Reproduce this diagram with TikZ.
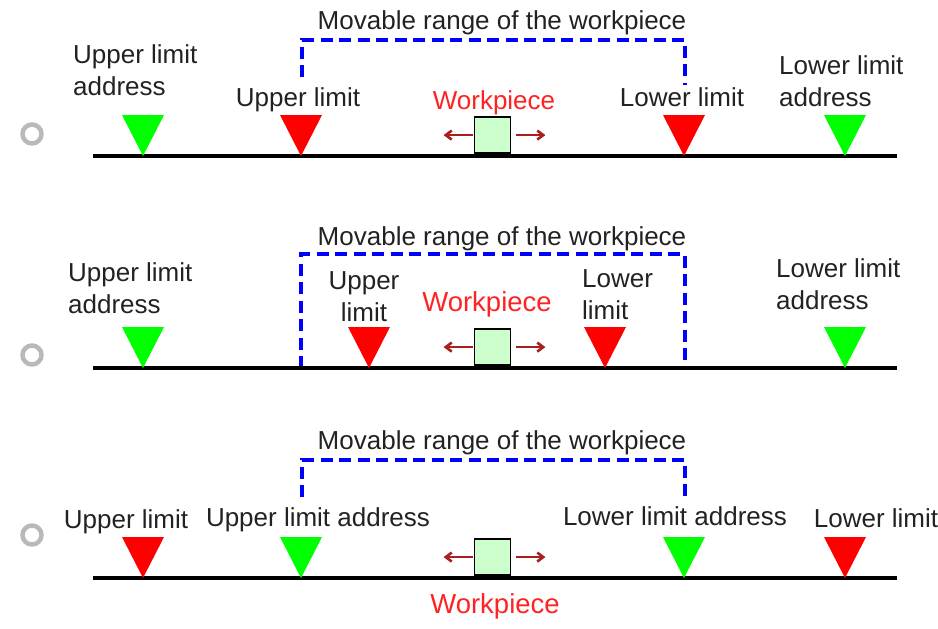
\documentclass[tikz,border=0pt]{standalone}
\usepackage{fontspec}
\setmainfont{Liberation Sans}
\usetikzlibrary{arrows.meta,positioning,calc}
\definecolor{limitRed}{RGB}{255,0,0}
\definecolor{addrGreen}{RGB}{0,255,0}
\definecolor{rangeBlue}{RGB}{0,0,255}
\definecolor{pieceRed}{RGB}{255,34,34}
\definecolor{pushRed}{RGB}{170,30,30}
\definecolor{pieceFill}{RGB}{204,255,204}
\definecolor{inkBlack}{RGB}{34,34,34}
\tikzset{
  label text/.style={text=inkBlack,font=\fontsize{26}{32}\selectfont,inner sep=0pt},
  piece text/.style={text=pieceRed,font=\fontsize{27.5}{32}\selectfont,inner sep=0pt},
  piece box/.style={draw=black,fill=pieceFill,line width=1.8pt,minimum size=36pt,inner sep=0pt},
  push arrow/.style={-{Straight Barb[length=6pt,width=9pt]},line width=2.6pt,draw=pushRed},
  range line/.style={draw=rangeBlue,line width=3.4pt,dash pattern=on 12pt off 6.5pt},
  rail/.style={line width=4pt,draw=black},
  radio/.style={circle,draw=gray!55,line width=4.5pt,fill=white,minimum size=19pt,inner sep=0pt},
  pics/stopper/.style={code={\fill[#1] (-21,-41) -- (21,-41) -- (0,0) -- cycle;}}
}

\begin{document}
\begin{tikzpicture}[x=1pt,y=-1pt]
      \useasboundingbox (0,0) rectangle (938,629);
      % first choice
      \node[radio] (r1) at (32,134) {};
      \node[label text,anchor=base] (mv1) at (502,29) {Movable range of the workpiece};
      \node[label text,align=left,anchor=north west] (ula1) at (73,44) {Upper limit\\address};
      \node[label text,anchor=base] (ul1) at (298,106) {Upper limit};
      \node[piece text,font=\fontsize{26}{32}\selectfont,anchor=base] (wp1) at (494,109) {Workpiece};
      \node[label text,anchor=base] (ll1) at (682,106) {Lower limit};
      \node[label text,align=left,anchor=north west] (lla1) at (779,55) {Lower limit\\address};
      \draw[range line] (302,77) |- (685,40) -- (685,85);
      \draw[rail] (93,156) -- (897,156);
      \pic at (143,156) {stopper=addrGreen};
      \pic at (301,156) {stopper=limitRed};
      \pic at (684,156) {stopper=limitRed};
      \pic at (845,156) {stopper=addrGreen};
      \node[piece box,anchor=south] (box1) at (492.5,154) {};
      \draw[push arrow] (box1.west) ++(-1,0) -- ++(-29,0);
      \draw[push arrow] (box1.east) ++(5,0) -- ++(29,0);
      % second choice
      \node[radio] (r2) at (32,355) {};
      \node[label text,anchor=base] (mv2) at (502,245) {Movable range of the workpiece};
      \node[label text,align=left,anchor=north west] (ula2) at (68,262) {Upper limit\\address};
      \node[label text,align=center,anchor=north] (ul2) at (364,271) {Upper\\limit};
      \node[piece text,anchor=base] (wp2) at (487,311) {Workpiece};
      \node[label text,align=left,anchor=north west] (ll2) at (582,269) {Lower\\limit};
      \node[label text,align=left,anchor=north west] (lla2) at (776,258) {Lower limit\\address};
      \draw[range line] (301,368) |- (685,254) -- (685,368);
      \draw[rail] (93,368) -- (897,368);
      \pic at (143,368) {stopper=addrGreen};
      \pic at (369,368) {stopper=limitRed};
      \pic at (605,368) {stopper=limitRed};
      \pic at (845,368) {stopper=addrGreen};
      \node[piece box,anchor=south] (box2) at (492.5,366) {};
      \draw[push arrow] (box2.west) ++(-1,0) -- ++(-29,0);
      \draw[push arrow] (box2.east) ++(5,0) -- ++(29,0);
      % third choice
      \node[radio] (r3) at (32,535) {};
      \node[label text,anchor=base] (mv3) at (502,449) {Movable range of the workpiece};
      \node[label text,anchor=base] (ul3) at (126,528) {Upper limit};
      \node[label text,anchor=base] (ula3) at (318,526) {Upper limit address};
      \node[label text,anchor=base] (lla3) at (675,525) {Lower limit address};
      \node[label text,anchor=base] (ll3) at (876,527) {Lower limit};
      \node[piece text,anchor=base] (wp3) at (495,613) {Workpiece};
      \draw[range line] (302,497) |- (685,460) -- (685,502);
      \draw[rail] (93,578) -- (897,578);
      \pic at (143,578) {stopper=limitRed};
      \pic at (301,578) {stopper=addrGreen};
      \pic at (684,578) {stopper=addrGreen};
      \pic at (845,578) {stopper=limitRed};
      \node[piece box,anchor=south] (box3) at (492.5,576) {};
      \draw[push arrow] (box3.west) ++(-1,0) -- ++(-29,0);
      \draw[push arrow] (box3.east) ++(5,0) -- ++(29,0);
    \end{tikzpicture}
\end{document}
